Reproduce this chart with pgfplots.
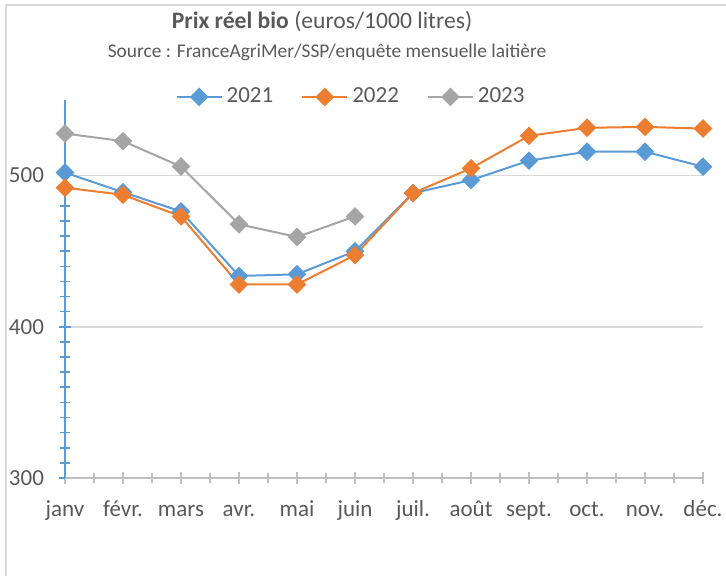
\documentclass[border=0pt]{standalone}
\usepackage{fontspec}
\setmainfont{Carlito}
\usepackage{pgfplots}
\pgfplotsset{compat=1.18}
\definecolor{c21}{HTML}{5B9BD5}
\definecolor{c22}{HTML}{ED7D31}
\definecolor{c23}{HTML}{A5A5A5}
\definecolor{txt}{HTML}{595959}
\definecolor{gridc}{HTML}{D9D9D9}
\definecolor{xax}{HTML}{BFBFBF}
\begin{document}
\begin{tikzpicture}
\path[use as bounding box] (-32.5pt,-49pt) rectangle (330.5pt,239pt);
\draw[gridc, line width=0.8pt] (-29.5pt,-49pt) -- (-29.5pt,236.5pt) -- (330.5pt,236.5pt);
\begin{axis}[
  at={(0pt,0pt)}, anchor=south west,
  scale only axis, width=319pt, height=189pt,
  xmin=0, xmax=11, ymin=300, ymax=550,
  clip=false,
  axis x line*=bottom, axis y line*=left,
  x axis line style={draw=xax, line width=0.8pt, -},
  y axis line style={draw=c21, line width=0.8pt, -},
  xtick={0,...,11},
  xticklabels={janv, févr., mars, avr., mai, juin, juil., août, sept., oct., nov., déc.},
  minor x tick num=1,
  ytick={300,400,500},
  minor y tick num=9,
  tick align=center,
  major tick length=6pt, minor tick length=5pt,
  x tick style={draw=xax, line width=0.6pt},
  y tick style={draw=c21, line width=0.8pt},
  ymajorgrids,
  major grid style={draw=gridc, line width=0.8pt},
  tick label style={font=\fontsize{11.5}{13}\selectfont, text=txt},
  /pgf/number format/assume math mode=true,
  xticklabel style={text height=8.5pt, text depth=2.5pt, yshift=-4pt},
  yticklabel style={xshift=-4pt},
  every axis plot/.append style={line width=1pt, mark=square*, mark size=2.8pt, mark options={rotate=45, solid}},
  legend style={at={(axis description cs:0.45,1.008)}, anchor=center, draw=none, fill=none,
    font=\fontsize{11.5}{13}\selectfont, text=txt,
    /tikz/every even column/.append style={column sep=12pt}},
  legend columns=3,
  legend image code/.code={\draw[#1, mark=none] (0pt,0pt) -- (22.5pt,0pt);
    \draw[#1, only marks] plot coordinates {(11.25pt,0pt)};},
  legend cell align=left,
]
\addplot[color=c21] coordinates {
(0,502) (1,489) (2,476.3) (3,433.6) (4,434.7) (5,450) (6,488.4) (7,497) (8,509.9) (9,515.8) (10,515.8) (11,505.9)};
\addplot[color=c22] coordinates {
(0,492) (1,487.3) (2,473) (3,428) (4,428) (5,447.4) (6,488.4) (7,504.8) (8,526.3) (9,531.6) (10,532.2) (11,531.1)};
\addplot[color=c23] coordinates {
(0,527.8) (1,522.8) (2,506) (3,467.8) (4,459.4) (5,473)};
\legend{2021,2022,2023}
\end{axis}
\node[text=txt, font=\fontsize{11.8}{13}\selectfont] at (128.5pt,228pt) {\textbf{Prix réel bio} (euros/1000 litres)};
\node[text=txt, font=\fontsize{9.7}{11}\selectfont] at (131pt,213pt) {Source : FranceAgriMer/SSP/enquête mensuelle laitière};
\end{tikzpicture}
\end{document}
